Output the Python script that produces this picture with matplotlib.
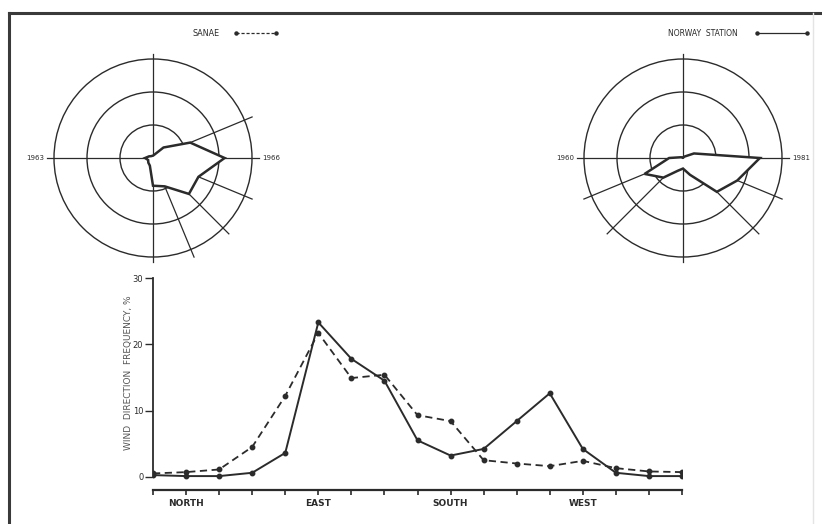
import numpy as np
import matplotlib
matplotlib.use("Agg")
import matplotlib.pyplot as plt
from matplotlib.patches import Circle, Polygon
from matplotlib.lines import Line2D

# wind direction frequency (%) by compass point, NNW ... NNW
directions = ['NNW', 'N', 'NNE', 'NE', 'ENE', 'E', 'ESE', 'SE', 'SSE',
              'S', 'SSW', 'SW', 'WSW', 'W', 'WNW', 'NW', 'NNW']
sanae = [0.5, 0.7, 1.1, 4.5, 12.2, 21.7, 14.9, 15.4, 9.3,
         8.4, 2.5, 2.0, 1.6, 2.4, 1.3, 0.8, 0.7]
norway = [0.25, 0.1, 0.1, 0.6, 3.6, 23.3, 17.8, 14.5, 5.5,
          3.2, 4.2, 8.4, 12.6, 4.2, 0.6, 0.1, 0.1]
tick_labels = ['', 'NORTH', '', '', '', 'EAST', '', '', '', 'SOUTH',
               '', '', '', 'WEST', '', '', '']
yticks = [0, 10, 20, 30]

rose_rings = [10, 20, 30]
sanae_spokes = ['ENE', 'ESE', 'SE', 'SSE']
norway_spokes = ['ESE', 'SE', 'SW', 'WSW']
sanae_years = ('1963', '1966')
norway_years = ('1960', '1981')

ink = '#2b2b2b'
W, H = 822, 524

fig = plt.figure(figsize=(W / 100, H / 100), dpi=100)
fig.patch.set_facecolor('white')


def fx(px):
    return px / W


def fy(py):
    return 1 - py / H


# frame of the scanned page
fig.add_artist(Line2D([fx(9), fx(822)], [fy(13), fy(13)], color='#3a3a3a', lw=2.2))
fig.add_artist(Line2D([fx(9), fx(9)], [fy(13), fy(524)], color='#3a3a3a', lw=2.2))
fig.add_artist(Line2D([fx(813), fx(813)], [fy(13), fy(524)], color='#e4e4e4', lw=1))

# ---- main line chart ----
x = np.arange(len(directions))
ax = fig.add_axes([fx(153), fy(490), fx(682) - fx(153), fy(271.4) - fy(490)])
ax.set_xlim(0, 16)
ax.set_ylim(-2, 31)
ax.plot(x, sanae, color=ink, lw=1.3, dashes=(4, 2.5), marker='o', ms=3.2, zorder=3)
ax.plot(x, norway, color=ink, lw=1.4, marker='o', ms=3.2, zorder=3)

for s in ['top', 'right']:
    ax.spines[s].set_visible(False)
ax.spines['left'].set_bounds(0, 30)
ax.spines['left'].set_linewidth(1.3)
ax.spines['left'].set_color(ink)
ax.spines['bottom'].set_bounds(0, 16)
ax.spines['bottom'].set_linewidth(1.6)
ax.spines['bottom'].set_color(ink)
ax.set_xticks(x)
ax.set_xticklabels(tick_labels)
ax.set_yticks(yticks)
ax.set_yticklabels([str(v) for v in yticks])
ax.tick_params(axis='x', direction='out', length=3.5, width=1.2, color=ink,
               pad=3, labelsize=6.5, labelcolor=ink)
ax.tick_params(axis='y', direction='out', length=5.5, width=1.0, color=ink,
               pad=1.5, labelsize=6, labelcolor=ink)
for t in ax.get_xticklabels():
    t.set_fontweight('bold')
fig.text(fx(128), fy(373), 'WIND  DIRECTION  FREQUENCY, %', rotation=90,
         ha='center', va='center', fontsize=6.5, color='#555555')


# ---- wind roses ----
def rose(cx, values, spokes, years):
    size = 240
    r = size / 2 / 3.3
    rax = fig.add_axes([fx(cx - size / 2), fy(158 + size / 2), size / W, size / H])
    rax.set_xlim(-r, r)
    rax.set_ylim(-r, r)
    rax.axis('off')
    for ring in rose_rings:
        rax.add_patch(Circle((0, 0), ring, fill=False, ec=ink, lw=1.0, zorder=1))
    rax.plot([-32, 32], [0, 0], color=ink, lw=0.9, zorder=1)
    rax.plot([0, 0], [-31.5, 31.5], color=ink, lw=0.9, zorder=1)
    bearings = np.radians(np.arange(16) * 22.5)
    vals = np.array(values[1:17])
    for name in spokes:
        b = bearings[directions.index(name) - 1]
        rax.plot([0, 32.5 * np.sin(b)], [0, 32.5 * np.cos(b)], color=ink, lw=0.9, zorder=1)
    pts = np.column_stack([vals * np.sin(bearings), vals * np.cos(bearings)])
    rax.add_patch(Polygon(pts, closed=True, fc='white', ec=ink, lw=1.8, zorder=3))
    rax.text(-33, 0, years[0], ha='right', va='center', fontsize=5, color=ink)
    rax.text(33, 0, years[1], ha='left', va='center', fontsize=5, color=ink)


rose(153, sanae, sanae_spokes, sanae_years)
rose(683, norway, norway_spokes, norway_years)

# legend keys above the roses
fig.text(fx(192), fy(33), 'SANAE', ha='left', va='center', fontsize=5.8, color=ink)
fig.add_artist(Line2D([fx(236), fx(276)], [fy(33), fy(33)], color=ink, lw=0.9,
                      dashes=(2.5, 1.5), marker='o', ms=2.2, markevery=[0, -1]))
fig.text(fx(668), fy(33), 'NORWAY  STATION', ha='left', va='center', fontsize=5.5, color=ink)
fig.add_artist(Line2D([fx(757), fx(807)], [fy(33), fy(33)], color=ink, lw=0.9,
                      marker='o', ms=2.2, markevery=[0, -1]))

fig.savefig('out.png', dpi=100)
